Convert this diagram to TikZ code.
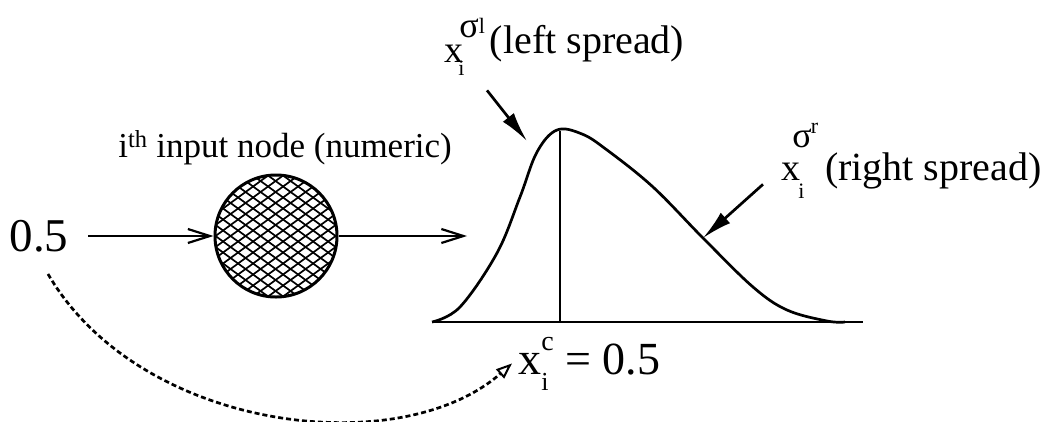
\documentclass[tikz,border=0pt]{standalone}
\usepackage{fontspec}
\setmainfont{Liberation Serif}
\usetikzlibrary{arrows.meta}

\begin{document}
\begin{tikzpicture}[
    x=1pt, y=-1pt,
    line width=2.7pt,
    label text/.style={inner sep=0pt, anchor=base west, font=\fontsize{40}{44}\selectfont},
    input node/.style={circle, draw, line width=3pt, minimum size=122pt, inner sep=0pt,
        path picture={
            \foreach \k in {-12,...,12} {
                \draw[line width=1.7pt] ([shift={(-70,\k*11-51)}]path picture bounding box.center) -- ++(140,102.6);
                \draw[line width=1.7pt] ([shift={(-70,\k*11+51)}]path picture bounding box.center) -- ++(140,-102.6);
            }
        }},
    flow arrow/.style={-{Straight Barb[length=22pt,width=14pt,line width=2.2pt]}},
    spread arrow/.style={-{Latex[length=30pt,width=14pt]}},
    link arrow/.style={dash pattern=on 5pt off 3pt, -{Triangle[open,length=16pt,width=12pt,line width=2pt]}}
]
    \useasboundingbox (0,0) rectangle (1048,421);

    % input value and input node
    \node[font=\fontsize{47}{50}\selectfont, inner sep=0pt, outer xsep=20pt, outer ysep=22pt] (inval) at (39,236) {0.5};
    \node[input node] (inp) at (276,236) {};
    \node[font=\fontsize{35}{38}\selectfont, inner sep=0pt, anchor=base west] (inlabel) at (117,157) {i\textsuperscript{th} input node (numeric)};
    \coordinate (peakin) at (467,236);
    \draw[flow arrow] (inval) -- (inp);
    \draw[flow arrow] (inp) -- (peakin);

    % membership curve
    \draw (432,322) -- (863,322);
    \draw plot[smooth, tension=0.6] coordinates {(432,322) (460,307) (497,253) (520,197) (537,152) (557,130) (582,134) (607,150) (653,187) (703,238) (753,287) (787,310) (827,321) (845,322)};
    \draw (560,322) -- (560,131);

    % spreads and centre
    \node[label text] (lspread) at (443,53) {\raisebox{-9pt}{\fontsize{38}{38}\selectfont x}\makebox[0pt][l]{\kern-5pt\raisebox{-22pt}{\fontsize{22}{22}\selectfont i}}\kern-4pt\raisebox{16pt}{\fontsize{36}{36}\selectfont σ}\raisebox{20pt}{\fontsize{22}{22}\selectfont l}\kern5pt(left spread)};
    \node[label text] (rspread) at (780,180) {{\fontsize{38}{38}\selectfont x}\makebox[0pt][l]{\kern-2pt\raisebox{-18pt}{\fontsize{22}{22}\selectfont i}}\kern-8pt\raisebox{33pt}{\fontsize{36}{36}\selectfont σ}\kern-1pt\raisebox{47pt}{\fontsize{22}{22}\selectfont r}\kern7pt(right spread)};
    \node[inner sep=0pt, anchor=base west, font=\fontsize{46}{50}\selectfont] (xc) at (517,374) {x\makebox[0pt][l]{\raisebox{-16pt}{\fontsize{26}{26}\selectfont i}}\raisebox{24pt}{\fontsize{28}{28}\selectfont c} = 0.5};
    \coordinate (ltip) at (527,141);
    \coordinate (rtip) at (703,238);
    \draw[spread arrow] ([shift={(44,14)}]lspread.south west) -- (ltip);
    \draw[spread arrow] ([shift={(-17,24)}]rspread.west) -- (rtip);

    % value carried over to the centre
    \draw[link arrow] ([xshift=9pt]inval.south) .. controls (140,432) and (400,462) .. ([xshift=-5pt]xc.west);
\end{tikzpicture}
\end{document}
